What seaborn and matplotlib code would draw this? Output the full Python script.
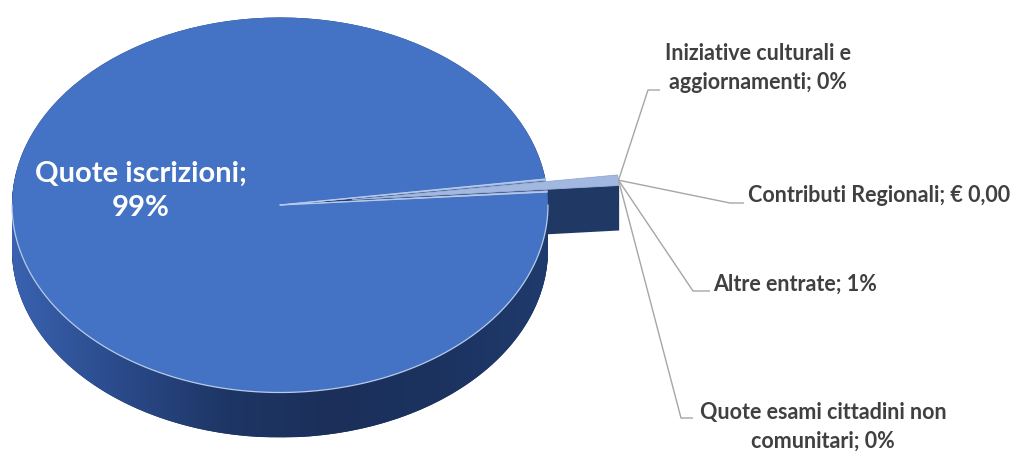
import numpy as np
import pandas as pd
import seaborn as sns
import matplotlib
matplotlib.use("Agg")
import matplotlib.pyplot as plt
from matplotlib.path import Path
from matplotlib.patches import PathPatch
from matplotlib.colors import LinearSegmentedColormap

# ---------------- data ----------------
categories = ["Quote iscrizioni",
              "Iniziative culturali e aggiornamenti",
              "Contributi Regionali",
              "Altre entrate",
              "Quote esami cittadini non comunitari"]
values = [98.9, 0.1, 0.0, 0.9, 0.1]
label_texts = ["Quote iscrizioni;\n99%",
               "Iniziative culturali e\naggiornamenti; 0%",
               "Contributi Regionali; € 0,00",
               "Altre entrate; 1%",
               "Quote esami cittadini non\ncomunitari; 0%"]
explode = [0, 0, 0, 0.27, 0]

df = pd.DataFrame({"categoria": categories, "valore": values,
                   "etichetta": label_texts, "explode": explode})

# ---------------- style ----------------
sns.set_theme(style="white")
plt.rcParams["font.family"] = ["Lato", "DejaVu Sans"]

W, H = 1021, 451
fig = plt.figure(figsize=(W / 100, H / 100), dpi=100)
ax = fig.add_axes([0, 0, 1, 1])

# ellipse geometry (pixels of the image)
CX, CY, RX, RY = 280, 205, 268, 187.5
DEPTH = 45 / RY


def d(px, py):
    return ((px - CX) / RX, (CY - py) / RY)


START = 4.0
top_colors = ["#4472C4", "#B4C7E7", "#B4C7E7", "#A2B8E0", "#B4C7E7"]
side_colors = ["#1F3864", "#2F5597", "#2F5597", "#203864", "#2F5597"]

# side of the 3D pie: stacked copies of the pie
for k in np.linspace(DEPTH, 0.0, 45):
    ax.pie(df["valore"], colors=side_colors, startangle=START,
           counterclock=False, explode=df["explode"], center=(0, -k),
           radius=1, wedgeprops=dict(linewidth=0))

# gradient shading over the main cylinder side
t = np.linspace(np.pi, 2 * np.pi, 200)
xs = np.concatenate([np.cos(t), np.cos(t[::-1])])
ys = np.concatenate([np.sin(t), np.sin(t[::-1]) - DEPTH])
band = PathPatch(Path(np.column_stack([xs, ys])), facecolor="none",
                 edgecolor="none", transform=ax.transData)
ax.add_patch(band)
cmap = LinearSegmentedColormap.from_list(
    "side", ["#3A62B0", "#2A4A8A", "#1E3665", "#1B2F5A", "#1C3360", "#1F3A6C"])
grad = np.linspace(0, 1, 256).reshape(1, -1)
im = ax.imshow(grad, cmap=cmap, extent=(-1, 1, -1 - DEPTH, 0.1),
               aspect="auto", zorder=1.5)
im.set_clip_path(band)

# top face
wedges, _ = ax.pie(df["valore"], colors=top_colors, startangle=START,
                   counterclock=False, explode=df["explode"], radius=1,
                   wedgeprops=dict(linewidth=0.6, edgecolor="#9DB4DE"))
for w in wedges:
    w.set_zorder(3)
wedges[0].set_edgecolor("none")
# light front rim of the top face
ax.plot(np.cos(t), np.sin(t), color="#B8CBEA", lw=0.9, zorder=3.5)
# light radial edges of the main slice
for ang in (wedges[0].theta1, wedges[0].theta2):
    a = np.deg2rad(ang)
    ax.plot([0, np.cos(a)], [0, np.sin(a)], color="#B8CBEA", lw=0.9,
            zorder=3.5)

# anchor of leader lines: outer tip of the exploded slice
w_ex = wedges[3]
mid = np.deg2rad((w_ex.theta1 + w_ex.theta2) / 2)
cx0, cy0 = w_ex.center
ax_x = cx0 + np.cos(mid)
ax_y = cy0 + np.sin(mid)

lab_kw = dict(color="#404040", fontsize=15.5, fontweight="bold", zorder=5)
line_kw = dict(color="#A6A6A6", lw=1.0, zorder=4, solid_capstyle="butt")

# big label
ax.text(*d(141, 191), df["etichetta"][0], ha="center", va="center",
        color="white", fontsize=21, fontweight="bold", zorder=5,
        linespacing=1.4)

# Iniziative
e1, e2 = d(648, 90), d(660, 90)
ax.plot([ax_x, e1[0], e2[0]], [ax_y, e1[1], e2[1]], **line_kw)
ax.text(*d(758, 68), df["etichetta"][1], ha="center", va="center",
        multialignment="center", linespacing=1.45, **lab_kw)

# Contributi Regionali
e1, e2 = d(730, 203), d(744, 203)
ax.plot([ax_x, e1[0], e2[0]], [ax_y, e1[1], e2[1]], **line_kw)
ax.text(*d(748, 196), df["etichetta"][2], ha="left", va="center", **lab_kw)

# Altre entrate
e1, e2 = d(693, 291), d(710, 291)
ax.plot([ax_x, e1[0], e2[0]], [ax_y, e1[1], e2[1]], **line_kw)
ax.text(*d(713, 284), df["etichetta"][3], ha="left", va="center", **lab_kw)

# Quote esami
e1, e2 = d(681, 418), d(693, 418)
ax.plot([ax_x, e1[0], e2[0]], [ax_y, e1[1], e2[1]], **line_kw)
ax.text(*d(823, 427), df["etichetta"][4], ha="center", va="center",
        multialignment="center", linespacing=1.45, **lab_kw)

ax.set_aspect("auto")
x0, y0 = d(0, H)
x1, y1 = d(W, 0)
ax.set_xlim(x0, x1)
ax.set_ylim(y0, y1)
ax.axis("off")

fig.savefig("out.png", dpi=100, facecolor="white")
